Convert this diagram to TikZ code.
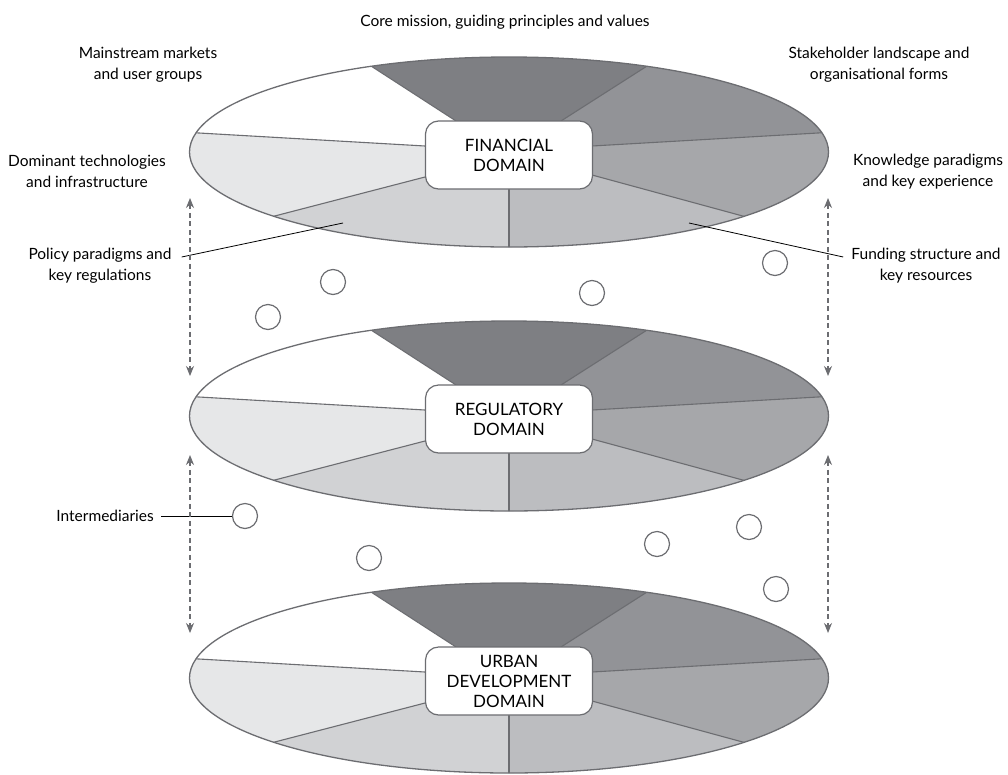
\documentclass[tikz,border=0pt]{standalone}
\usepackage{fontspec}
\setmainfont{Lato}
\usetikzlibrary{arrows.meta}
\definecolor{edge}{RGB}{108,109,113}
\definecolor{cA}{RGB}{126,127,131}
\definecolor{cB}{RGB}{146,147,151}
\definecolor{cC}{RGB}{166,167,170}
\definecolor{cD}{RGB}{188,189,192}
\definecolor{cE}{RGB}{209,210,212}
\definecolor{cF}{RGB}{230,231,232}
\definecolor{cG}{RGB}{255,255,255}
\tikzset{
  lbl/.style={align=center, font=\fontsize{15.5}{21}\selectfont, inner sep=0pt},
  domainbox/.style={draw=edge, fill=white, line width=1.2pt, rounded corners=13pt,
    minimum width=167pt, minimum height=68pt, inner sep=0pt, align=center,
    font=\fontsize{17}{20}\selectfont},
  sectorline/.style={draw=edge, line width=1.1pt},
  rimline/.style={draw=edge, line width=1.3pt},
  imc/.style={circle, draw=edge, fill=white, line width=1.2pt, minimum size=25pt, inner sep=0pt},
  leader/.style={draw=black, line width=0.8pt},
  dasharrow/.style={draw=edge, line width=1.1pt, dash pattern=on 5pt off 3.5pt,
    {Stealth[length=10pt,width=8pt]}-{Stealth[length=10pt,width=8pt]}}
}
\newcommand\domainlayer[3]{%
\begin{scope}[shift={(509,#2)}]
  \begin{scope}
    \clip (0,0) ellipse [x radius=319.5, y radius=95];
    \coordinate (p1) at (-53,-31);  \coordinate (f1) at (-306.5,-195);
    \coordinate (p2) at (52,-31);   \coordinate (f2) at (304,-192);
    \coordinate (p3) at (-84,-6);   \coordinate (f3) at (-762,-45);
    \coordinate (p4) at (83,-6);    \coordinate (f4) at (761,-45);
    \coordinate (p5) at (-84,25);   \coordinate (f5) at (-558,148);
    \coordinate (p6) at (83,23);    \coordinate (f6) at (557,152);
    \coordinate (p7) at (0,37);     \coordinate (f7) at (0,300);
    \fill[cA] (0,3) -- (p1) -- (f1) -- (f2) -- (p2) -- cycle;
    \fill[cB] (0,3) -- (p2) -- (f2) -- (800,-200) -- (f4) -- (p4) -- cycle;
    \fill[cC] (0,3) -- (p4) -- (f4) -- (800,160) -- (f6) -- (p6) -- cycle;
    \fill[cD] (0,3) -- (p6) -- (f6) -- (557,300) -- (f7) -- (p7) -- cycle;
    \fill[cE] (0,3) -- (p7) -- (f7) -- (-561,300) -- (f5) -- (p5) -- cycle;
    \fill[cF] (0,3) -- (p5) -- (f5) -- (-800,160) -- (f3) -- (p3) -- cycle;
    \fill[cG] (0,3) -- (p3) -- (f3) -- (-800,-200) -- (f1) -- (p1) -- cycle;
    \foreach \i in {1,...,7} { \draw[sectorline] (p\i) -- (f\i); }
  \end{scope}
  \draw[rimline] (0,0) ellipse [x radius=319.5, y radius=95];
  \node[domainbox] (#1) at (0,3) {#3};
\end{scope}}
\begin{document}
\begin{tikzpicture}[x=1pt,y=-1pt]
\useasboundingbox[fill=white] (0,0) rectangle (1008,774);

\domainlayer{fin}{152}{FINANCIAL\\DOMAIN}
\domainlayer{reg}{416}{REGULATORY\\DOMAIN}
\domainlayer{urb}{678}{URBAN\\DEVELOPMENT\\DOMAIN}

% labels
\node[lbl] (core) at (505,22) {Core mission, guiding principles and values};
\node[lbl] (main) at (148,65) {Mainstream markets\\and user groups};
\node[lbl] (stake) at (879,65) {Stakeholder landscape and\\organisational forms};
\node[lbl] (dom) at (87,171) {Dominant technologies\\and infrastructure};
\node[lbl] (know) at (928,172) {Knowledge paradigms\\and key experience};
\node[lbl] (pol) at (100,266) {Policy paradigms and\\key regulations};
\node[lbl] (fund) at (926,266) {Funding structure and\\key resources};
\node[lbl, anchor=east] (inter) at (154,516) {Intermediaries};

% intermediaries circles
\node[imc] (c1) at (333,282) {};
\node[imc] (c2) at (268,317) {};
\node[imc] (c3) at (592,293) {};
\node[imc] (c4) at (775,263) {};
\node[imc] (c5) at (245,516) {};
\node[imc] (c6) at (369,558) {};
\node[imc] (c7) at (657,544) {};
\node[imc] (c8) at (749,527) {};
\node[imc] (c9) at (776,589) {};

% leader lines
\coordinate (polend) at (343,223);
\coordinate (fundend) at (689,223);
\draw[leader] ([xshift=10pt,yshift=9pt]pol.east) -- (polend);
\draw[leader] ([xshift=-8pt,yshift=9pt]fund.west) -- (fundend);
\draw[leader] ([xshift=7pt]inter.east) -- (c5.west);

% dashed double arrows
\coordinate (la1) at (190,198); \coordinate (la2) at (190,376);
\coordinate (lb1) at (190,455); \coordinate (lb2) at (190,633);
\coordinate (ra1) at (828,198); \coordinate (ra2) at (828,376);
\coordinate (rb1) at (828,455); \coordinate (rb2) at (828,633);
\draw[dasharrow] (la1) -- (la2);
\draw[dasharrow] (lb1) -- (lb2);
\draw[dasharrow] (ra1) -- (ra2);
\draw[dasharrow] (rb1) -- (rb2);
\end{tikzpicture}
\end{document}
